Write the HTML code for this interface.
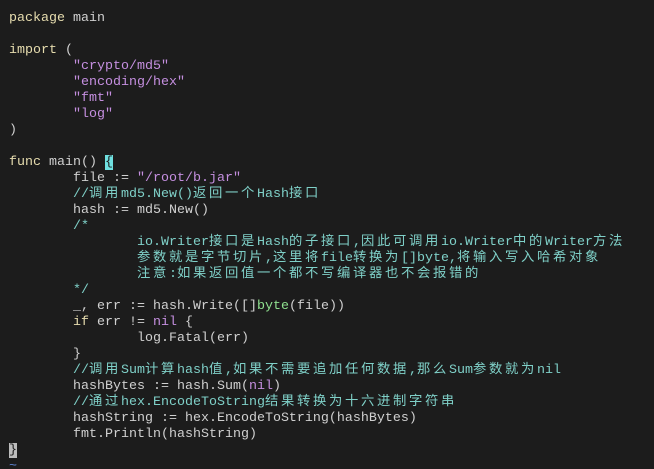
<!DOCTYPE html>
<html><head><meta charset="utf-8"><style>
html,body{margin:0;padding:0;background:#1c1c1c;width:654px;height:469px;overflow:hidden}
pre{margin:0;padding:11px 0 0 9px;font-family:"Liberation Mono","Noto Sans CJK SC",monospace;font-size:13.33px;line-height:16px;color:#d0d0d0;white-space:pre}
.k{color:#e6dcae}.s{color:#c58fe0}.m{color:#7fd0c8}.g{color:#8fe08f}
.c{letter-spacing:2.67px}
.cur{background:#6fe0e0;color:#1c1c1c}.cur2{background:#bcbcbc;color:#1c1c1c}
.t{color:#5f87d7}
</style></head><body><pre><span class="k">package</span> main

<span class="k">import</span> (
        <span class="s">"crypto/md5"</span>
        <span class="s">"encoding/hex"</span>
        <span class="s">"fmt"</span>
        <span class="s">"log"</span>
)

<span class="k">func</span> main() <span class="cur">{</span>
        file := <span class="s">"/root/b.jar"</span>
        <span class="m">//<span class="c">调用</span>md5.New()<span class="c">返回一个</span>Hash<span class="c">接口</span></span>
        hash := md5.New()
        <span class="m">/*
                io.Writer<span class="c">接口是</span>Hash<span class="c">的子接口</span>,<span class="c">因此可调用</span>io.Writer<span class="c">中的</span>Writer<span class="c">方法</span>
                <span class="c">参数就是字节切片</span>,<span class="c">这里将</span>file<span class="c">转换为</span>[]byte,<span class="c">将输入写入哈希对象</span>
                <span class="c">注意</span>:<span class="c">如果返回值一个都不写编译器也不会报错的</span>
        */</span>
        _, err := hash.Write([]<span class="g">byte</span>(file))
        <span class="k">if</span> err != <span class="s">nil</span> {
                log.Fatal(err)
        }
        <span class="m">//<span class="c">调用</span>Sum<span class="c">计算</span>hash<span class="c">值</span>,<span class="c">如果不需要追加任何数据</span>,<span class="c">那么</span>Sum<span class="c">参数就为</span>nil</span>
        hashBytes := hash.Sum(<span class="s">nil</span>)
        <span class="m">//<span class="c">通过</span>hex.EncodeToString<span class="c">结果转换为十六进制字符串</span></span>
        hashString := hex.EncodeToString(hashBytes)
        fmt.Println(hashString)
<span class="cur2">}</span>
<span class="t">~</span></pre></body></html>
